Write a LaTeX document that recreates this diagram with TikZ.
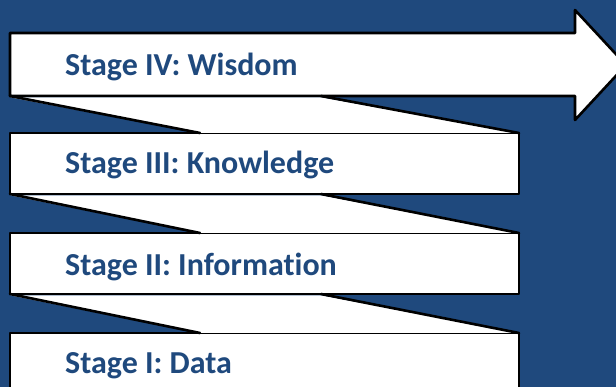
\documentclass[tikz,border=0pt]{standalone}
\usepackage{fontspec}
\setmainfont{Carlito}[Ligatures=NoCommon]
\usetikzlibrary{calc}

\definecolor{navy}{HTML}{1F497D}

\tikzset{
    band/.style={draw, fill=white, line width=2.6pt, line join=round, inner sep=0pt, outer sep=0pt},
    fold/.style={line width=2.6pt, line cap=round},
    stage/.style={text=navy, font=\fontsize{32}{38}\selectfont\bfseries, inner sep=0pt, anchor=base west}
}

\begin{document}
\begin{tikzpicture}[x=1pt, y=-1pt]
    % band size
    \def \bw {509}
    \def \bh {61}

    \useasboundingbox (0,0) rectangle (616,387);
    \fill[navy] (0,0) rectangle (616,387);

    \node (s1) at (264.5,363.5) [band, minimum width=\bw pt, minimum height=\bh pt] {};
    \node (s2) at (264.5,263.5) [band, minimum width=\bw pt, minimum height=\bh pt] {};
    \node (s3) at (264.5,163.5) [band, minimum width=\bw pt, minimum height=\bh pt] {};

    % top band ends in the big arrow
    \draw[band] (10,33) coordinate (s4nw) -- (575,33) -- (575,10) -- (626,65) coordinate (tip)
        -- (575,120) -- (575,96) -- (10,96) coordinate (s4sw) -- cycle;

    % folds between the bands
    \fill[white] ($(s4sw)+(0,1.3)$) -- ++(311,0) -- (s3.north east) -- ($(s3.north west)+(190,0)$) -- cycle;
    \draw[fold] (s4sw) -- ($(s3.north west)+(190,0)$);
    \draw[fold] ($(s4sw)+(311,0)$) -- (s3.north east);

    \fill[white] ($(s3.south west)+(0,1.3)$) -- ++(311,0) -- (s2.north east) -- ($(s2.north west)+(190,0)$) -- cycle;
    \draw[fold] (s3.south west) -- ($(s2.north west)+(190,0)$);
    \draw[fold] ($(s3.south west)+(311,0)$) -- (s2.north east);

    \fill[white] ($(s2.south west)+(0,1.3)$) -- ++(311,0) -- (s1.north east) -- ($(s1.north west)+(190,0)$) -- cycle;
    \draw[fold] (s2.south west) -- ($(s1.north west)+(190,0)$);
    \draw[fold] ($(s2.south west)+(311,0)$) -- (s1.north east);

    \node (l4) at ($(s4sw)+(55,-20)$) [stage] {Stage IV: Wisdom};
    \node (l3) at ([xshift=55pt,yshift=-10pt]s3.west) [stage] {Stage III: Knowledge};
    \node (l2) at ([xshift=55pt,yshift=-12pt]s2.west) [stage] {Stage II: Information};
    \node (l1) at ([xshift=55pt,yshift=-10pt]s1.west) [stage] {Stage I: Data};

\end{tikzpicture}
\end{document}
